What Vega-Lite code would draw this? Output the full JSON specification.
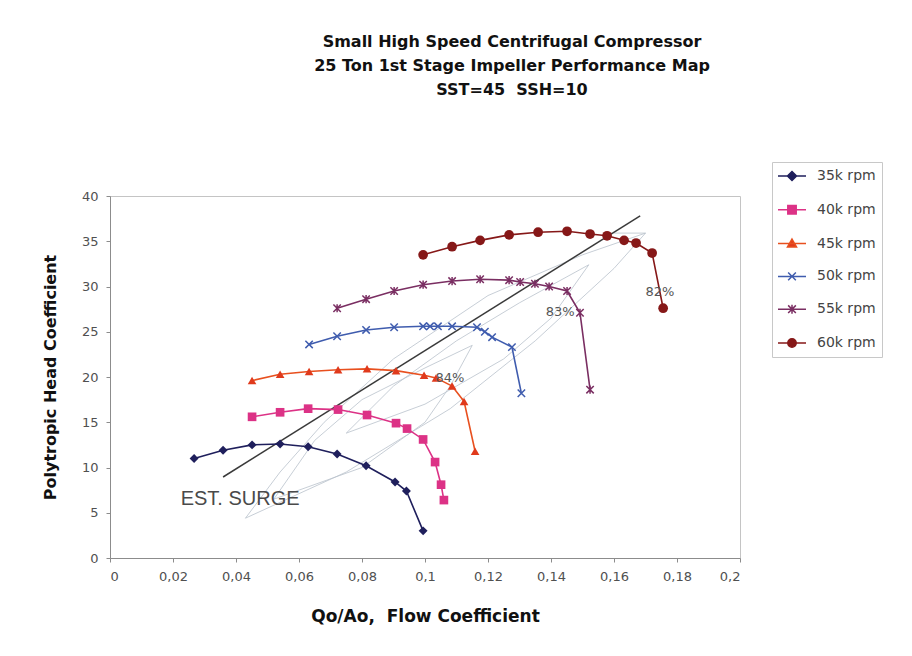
{
  "$schema": "https://vega.github.io/schema/vega-lite/v6.json",
  "autosize": "none",
  "width": 630,
  "height": 362,
  "padding": {"left": 110, "top": 196, "right": 172, "bottom": 98},
  "background": "white",
  "title": {
    "text": ["Small High Speed Centrifugal Compressor", "25 Ton 1st Stage Impeller Performance Map", "SST=45\u00a0\u00a0SSH=10"],
    "font": "DejaVu Sans",
    "fontSize": 16,
    "fontWeight": "bold",
    "lineHeight": 24,
    "color": "#111111",
    "anchor": "middle",
    "dx": 87,
    "offset": 64
  },
  "datasets": {
    "speeds": [
      {"s": "35k rpm", "o": 1, "x": 0.0267, "y": 11.0},
      {"s": "35k rpm", "o": 2, "x": 0.0359, "y": 11.9},
      {"s": "35k rpm", "o": 3, "x": 0.0451, "y": 12.5},
      {"s": "35k rpm", "o": 4, "x": 0.054, "y": 12.6},
      {"s": "35k rpm", "o": 5, "x": 0.0629, "y": 12.3},
      {"s": "35k rpm", "o": 6, "x": 0.0721, "y": 11.5},
      {"s": "35k rpm", "o": 7, "x": 0.0813, "y": 10.2},
      {"s": "35k rpm", "o": 8, "x": 0.0905, "y": 8.4},
      {"s": "35k rpm", "o": 9, "x": 0.0941, "y": 7.4},
      {"s": "35k rpm", "o": 10, "x": 0.0994, "y": 3.0},
      {"s": "40k rpm", "o": 1, "x": 0.0451, "y": 15.6},
      {"s": "40k rpm", "o": 2, "x": 0.054, "y": 16.1},
      {"s": "40k rpm", "o": 3, "x": 0.0629, "y": 16.5},
      {"s": "40k rpm", "o": 4, "x": 0.0724, "y": 16.4},
      {"s": "40k rpm", "o": 5, "x": 0.0816, "y": 15.8},
      {"s": "40k rpm", "o": 6, "x": 0.0908, "y": 14.9},
      {"s": "40k rpm", "o": 7, "x": 0.0943, "y": 14.3},
      {"s": "40k rpm", "o": 8, "x": 0.0994, "y": 13.1},
      {"s": "40k rpm", "o": 9, "x": 0.1032, "y": 10.6},
      {"s": "40k rpm", "o": 10, "x": 0.1051, "y": 8.1},
      {"s": "40k rpm", "o": 11, "x": 0.106, "y": 6.4},
      {"s": "45k rpm", "o": 1, "x": 0.0451, "y": 19.6},
      {"s": "45k rpm", "o": 2, "x": 0.054, "y": 20.3},
      {"s": "45k rpm", "o": 3, "x": 0.0632, "y": 20.6},
      {"s": "45k rpm", "o": 4, "x": 0.0724, "y": 20.8},
      {"s": "45k rpm", "o": 5, "x": 0.0816, "y": 20.9},
      {"s": "45k rpm", "o": 6, "x": 0.0908, "y": 20.7},
      {"s": "45k rpm", "o": 7, "x": 0.0997, "y": 20.2},
      {"s": "45k rpm", "o": 8, "x": 0.1035, "y": 19.9},
      {"s": "45k rpm", "o": 9, "x": 0.1086, "y": 19.0},
      {"s": "45k rpm", "o": 10, "x": 0.1124, "y": 17.3},
      {"s": "45k rpm", "o": 11, "x": 0.1159, "y": 11.8},
      {"s": "50k rpm", "o": 1, "x": 0.0632, "y": 23.6},
      {"s": "50k rpm", "o": 2, "x": 0.0721, "y": 24.5},
      {"s": "50k rpm", "o": 3, "x": 0.0813, "y": 25.2},
      {"s": "50k rpm", "o": 4, "x": 0.0902, "y": 25.5},
      {"s": "50k rpm", "o": 5, "x": 0.0994, "y": 25.6},
      {"s": "50k rpm", "o": 6, "x": 0.1016, "y": 25.6},
      {"s": "50k rpm", "o": 7, "x": 0.1041, "y": 25.6},
      {"s": "50k rpm", "o": 8, "x": 0.1086, "y": 25.6},
      {"s": "50k rpm", "o": 9, "x": 0.1165, "y": 25.5},
      {"s": "50k rpm", "o": 10, "x": 0.119, "y": 25.0},
      {"s": "50k rpm", "o": 11, "x": 0.1213, "y": 24.4},
      {"s": "50k rpm", "o": 12, "x": 0.1276, "y": 23.3},
      {"s": "50k rpm", "o": 13, "x": 0.1306, "y": 18.2},
      {"s": "55k rpm", "o": 1, "x": 0.0721, "y": 27.6},
      {"s": "55k rpm", "o": 2, "x": 0.0813, "y": 28.6},
      {"s": "55k rpm", "o": 3, "x": 0.0902, "y": 29.5},
      {"s": "55k rpm", "o": 4, "x": 0.0994, "y": 30.2},
      {"s": "55k rpm", "o": 5, "x": 0.1086, "y": 30.6},
      {"s": "55k rpm", "o": 6, "x": 0.1175, "y": 30.8},
      {"s": "55k rpm", "o": 7, "x": 0.1267, "y": 30.7},
      {"s": "55k rpm", "o": 8, "x": 0.1302, "y": 30.5},
      {"s": "55k rpm", "o": 9, "x": 0.1349, "y": 30.3},
      {"s": "55k rpm", "o": 10, "x": 0.1394, "y": 30.0},
      {"s": "55k rpm", "o": 11, "x": 0.1451, "y": 29.5},
      {"s": "55k rpm", "o": 12, "x": 0.1492, "y": 27.1},
      {"s": "55k rpm", "o": 13, "x": 0.1524, "y": 18.6},
      {"s": "60k rpm", "o": 1, "x": 0.0994, "y": 33.5},
      {"s": "60k rpm", "o": 2, "x": 0.1086, "y": 34.4},
      {"s": "60k rpm", "o": 3, "x": 0.1175, "y": 35.1},
      {"s": "60k rpm", "o": 4, "x": 0.1267, "y": 35.7},
      {"s": "60k rpm", "o": 5, "x": 0.1359, "y": 36.0},
      {"s": "60k rpm", "o": 6, "x": 0.1451, "y": 36.1},
      {"s": "60k rpm", "o": 7, "x": 0.1524, "y": 35.8},
      {"s": "60k rpm", "o": 8, "x": 0.1578, "y": 35.6},
      {"s": "60k rpm", "o": 9, "x": 0.1632, "y": 35.1},
      {"s": "60k rpm", "o": 10, "x": 0.167, "y": 34.8},
      {"s": "60k rpm", "o": 11, "x": 0.1721, "y": 33.7},
      {"s": "60k rpm", "o": 12, "x": 0.1756, "y": 27.6}
    ],
    "contours": [
      {"g": "a", "o": 1, "x": 0.043, "y": 4.4},
      {"g": "a", "o": 2, "x": 0.054, "y": 9.5},
      {"g": "a", "o": 3, "x": 0.068, "y": 15.0},
      {"g": "a", "o": 4, "x": 0.09, "y": 22.0},
      {"g": "a", "o": 5, "x": 0.12, "y": 29.0},
      {"g": "a", "o": 6, "x": 0.15, "y": 33.5},
      {"g": "a", "o": 7, "x": 0.17, "y": 35.9},
      {"g": "b", "o": 1, "x": 0.043, "y": 4.4},
      {"g": "b", "o": 2, "x": 0.075, "y": 9.5},
      {"g": "b", "o": 3, "x": 0.108, "y": 16.5},
      {"g": "b", "o": 4, "x": 0.135, "y": 24.0},
      {"g": "b", "o": 5, "x": 0.16, "y": 32.0},
      {"g": "b", "o": 6, "x": 0.17, "y": 35.9},
      {"g": "b", "o": 7, "x": 0.16, "y": 35.9},
      {"g": "c", "o": 1, "x": 0.075, "y": 13.8},
      {"g": "c", "o": 2, "x": 0.09, "y": 19.0},
      {"g": "c", "o": 3, "x": 0.11, "y": 24.0},
      {"g": "c", "o": 4, "x": 0.13, "y": 28.2},
      {"g": "c", "o": 5, "x": 0.152, "y": 32.4},
      {"g": "d", "o": 1, "x": 0.075, "y": 13.8},
      {"g": "d", "o": 2, "x": 0.1, "y": 17.0},
      {"g": "d", "o": 3, "x": 0.125, "y": 22.0},
      {"g": "d", "o": 4, "x": 0.14, "y": 26.5},
      {"g": "d", "o": 5, "x": 0.152, "y": 32.4},
      {"g": "e", "o": 1, "x": 0.052, "y": 6.5},
      {"g": "e", "o": 2, "x": 0.065, "y": 13.0},
      {"g": "e", "o": 3, "x": 0.08, "y": 17.5},
      {"g": "e", "o": 4, "x": 0.1, "y": 21.0},
      {"g": "e", "o": 5, "x": 0.115, "y": 23.5},
      {"g": "f", "o": 1, "x": 0.052, "y": 6.5},
      {"g": "f", "o": 2, "x": 0.08, "y": 10.0},
      {"g": "f", "o": 3, "x": 0.1, "y": 15.0},
      {"g": "f", "o": 4, "x": 0.108, "y": 19.0},
      {"g": "f", "o": 5, "x": 0.115, "y": 23.5}
    ],
    "surge": [
      {"x": 0.0359, "y": 8.95},
      {"x": 0.1683, "y": 37.8}
    ],
    "labels": [
      {"t": "84%", "x": 0.1079, "y": 19.9},
      {"t": "83%", "x": 0.1429, "y": 27.2},
      {"t": "82%", "x": 0.1746, "y": 29.4}
    ],
    "surgeLabel": [
      {"t": "EST. SURGE", "x": 0.0413, "y": 6.5}
    ]
  },
  "config": {
    "view": {"stroke": "#c4c4c4", "strokeWidth": 1},
    "axis": {
      "grid": false,
      "domainColor": "#8c8c8c",
      "tickColor": "#8c8c8c",
      "tickSize": 4,
      "labelFont": "DejaVu Sans",
      "labelFontSize": 13,
      "labelColor": "#505050",
      "titleFont": "DejaVu Sans",
      "titleFontSize": 16,
      "titleFontWeight": "bold",
      "titleColor": "#111111"
    }
  },
  "layer": [
    {
      "data": {"name": "contours"},
      "mark": {"type": "line", "color": "#b9c2cc", "strokeWidth": 0.8},
      "encoding": {
        "x": {"field": "x", "type": "quantitative"},
        "y": {"field": "y", "type": "quantitative"},
        "detail": {"field": "g"},
        "order": {"field": "o"}
      }
    },
    {
      "data": {"name": "surge"},
      "mark": {"type": "line", "color": "#3a3a3a", "strokeWidth": 1.5},
      "encoding": {
        "x": {"field": "x", "type": "quantitative"},
        "y": {"field": "y", "type": "quantitative"}
      }
    },
    {
      "data": {"name": "speeds"},
      "mark": {"type": "line", "strokeWidth": 1.6},
      "encoding": {
        "x": {
          "field": "x", "type": "quantitative",
          "scale": {"domain": [0, 0.2], "nice": false},
          "axis": {
            "values": [0, 0.02, 0.04, 0.06, 0.08, 0.1, 0.12, 0.14, 0.16, 0.18, 0.2],
            "labelExpr": "replace(format(datum.value, '~g'), '.', ',')",
            "labelPadding": 8,
            "title": "Qo/Ao,\u00a0\u00a0Flow Coefficient",
            "titleFontSize": 17,
            "titlePadding": 25
          }
        },
        "y": {
          "field": "y", "type": "quantitative",
          "scale": {"domain": [0, 40], "nice": false},
          "axis": {
            "values": [0, 5, 10, 15, 20, 25, 30, 35, 40],
            "labelPadding": 8,
            "title": "Polytropic Head Coefficient",
            "titlePadding": 23
          }
        },
        "order": {"field": "o"},
        "color": {
          "field": "s", "type": "nominal",
          "scale": {
            "domain": ["35k rpm", "40k rpm", "45k rpm", "50k rpm", "55k rpm", "60k rpm"],
            "range": ["#1f1f5c", "#dc3286", "#e8501f", "#3f5cae", "#7a2e62", "#861818"]
          },
          "legend": {
            "title": null,
            "orient": "none",
            "legendX": 662,
            "legendY": -34,
            "padding": 6,
            "strokeColor": "#c8c8c8",
            "fillColor": "white",
            "symbolSize": 196,
            "symbolOffset": 6,
            "labelOffset": 17,
            "rowPadding": 17.8,
            "labelFont": "DejaVu Sans",
            "labelFontSize": 14,
            "labelColor": "#444444",
            "symbolStrokeWidth": 1.5
          }
        }
      }
    },
    {
      "data": {"name": "speeds"},
      "transform": [{"filter": "datum.o < 0"}],
      "mark": {"type": "point", "filled": true, "opacity": 1, "strokeWidth": 1.5},
      "encoding": {
        "x": {"field": "x", "type": "quantitative"},
        "y": {"field": "y", "type": "quantitative"},
        "fill": {
          "field": "s", "type": "nominal",
          "scale": {
            "domain": ["35k rpm", "40k rpm", "45k rpm", "50k rpm", "55k rpm", "60k rpm"],
            "range": ["#1f1f5c", "#dc3286", "#e03a1c", "#3f5cae", "#7a2e62", "#861818"]
          },
          "legend": null
        },
        "stroke": {
          "field": "s", "type": "nominal",
          "scale": {
            "domain": ["35k rpm", "40k rpm", "45k rpm", "50k rpm", "55k rpm", "60k rpm"],
            "range": ["#1f1f5c", "#dc3286", "#e8501f", "#3f5cae", "#7a2e62", "#861818"]
          },
          "legend": null
        },
        "shape": {
          "field": "s", "type": "nominal",
          "scale": {
            "domain": ["35k rpm", "40k rpm", "45k rpm", "50k rpm", "55k rpm", "60k rpm"],
            "range": [
              "M-2,0L2,0M-0.65,0L0,-0.65L0.65,0L0,0.65Z",
              "M-2,0L2,0M-0.6,-0.6L0.6,-0.6L0.6,0.6L-0.6,0.6Z",
              "M-2,0L2,0M0,-0.65L0.65,0.5L-0.65,0.5Z",
              "M-2,0L2,0M-0.55,-0.55L0.55,0.55M-0.55,0.55L0.55,-0.55",
              "M-2,0L2,0M-0.55,-0.55L0.55,0.55M-0.55,0.55L0.55,-0.55M0,-0.65L0,0.65",
              "M-2,0L2,0M-0.6,0A0.6,0.6 0 1,0 0.6,0A0.6,0.6 0 1,0 -0.6,0Z"
            ]
          },
          "legend": null
        }
      }
    },
    {
      "data": {"name": "speeds"},
      "transform": [{"filter": "datum.s === '35k rpm'"}],
      "mark": {"type": "point", "shape": "diamond", "filled": true, "color": "#1f1f5c", "size": 80, "opacity": 1},
      "encoding": {"x": {"field": "x", "type": "quantitative"}, "y": {"field": "y", "type": "quantitative"}}
    },
    {
      "data": {"name": "speeds"},
      "transform": [{"filter": "datum.s === '40k rpm'"}],
      "mark": {"type": "point", "shape": "square", "filled": true, "color": "#dc3286", "size": 75, "opacity": 1},
      "encoding": {"x": {"field": "x", "type": "quantitative"}, "y": {"field": "y", "type": "quantitative"}}
    },
    {
      "data": {"name": "speeds"},
      "transform": [{"filter": "datum.s === '45k rpm'"}],
      "mark": {"type": "point", "shape": "triangle-up", "filled": true, "color": "#e03a1c", "size": 75, "opacity": 1},
      "encoding": {"x": {"field": "x", "type": "quantitative"}, "y": {"field": "y", "type": "quantitative"}}
    },
    {
      "data": {"name": "speeds"},
      "transform": [{"filter": "datum.s === '50k rpm'"}],
      "mark": {"type": "point", "shape": "M-1,-1L1,1M-1,1L1,-1", "filled": false, "color": "#3f5cae", "size": 55, "strokeWidth": 1.5, "opacity": 1},
      "encoding": {"x": {"field": "x", "type": "quantitative"}, "y": {"field": "y", "type": "quantitative"}}
    },
    {
      "data": {"name": "speeds"},
      "transform": [{"filter": "datum.s === '55k rpm'"}],
      "mark": {"type": "point", "shape": "M-1,-1L1,1M-1,1L1,-1M0,-1.1L0,1.1", "filled": false, "color": "#7a2e62", "size": 55, "strokeWidth": 1.5, "opacity": 1},
      "encoding": {"x": {"field": "x", "type": "quantitative"}, "y": {"field": "y", "type": "quantitative"}}
    },
    {
      "data": {"name": "speeds"},
      "transform": [{"filter": "datum.s === '60k rpm'"}],
      "mark": {"type": "point", "shape": "circle", "filled": true, "color": "#861818", "size": 95, "opacity": 1},
      "encoding": {"x": {"field": "x", "type": "quantitative"}, "y": {"field": "y", "type": "quantitative"}}
    },
    {
      "data": {"name": "labels"},
      "mark": {"type": "text", "font": "DejaVu Sans", "fontSize": 13, "color": "#555555", "align": "center", "baseline": "middle"},
      "encoding": {
        "x": {"field": "x", "type": "quantitative"},
        "y": {"field": "y", "type": "quantitative"},
        "text": {"field": "t"}
      }
    },
    {
      "data": {"name": "surgeLabel"},
      "mark": {"type": "text", "font": "Liberation Sans", "fontSize": 20, "color": "#4a4a4a", "align": "center", "baseline": "middle"},
      "encoding": {
        "x": {"field": "x", "type": "quantitative"},
        "y": {"field": "y", "type": "quantitative"},
        "text": {"field": "t"}
      }
    }
  ]
}
